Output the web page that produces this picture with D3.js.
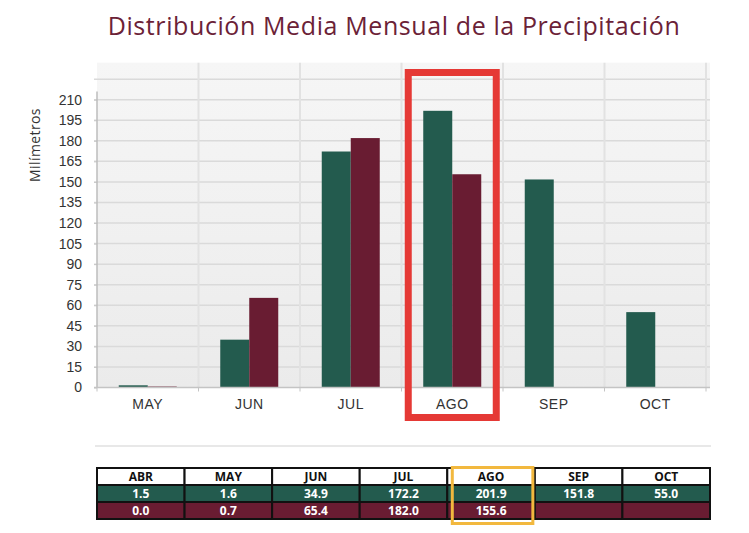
<!DOCTYPE html>
<html lang="es">
<head>
  <meta charset="UTF-8">
  <title>Distribución Media Mensual de la Precipitación</title>
  <style>
    body { margin: 0; background: #fff; }
    svg { display: block; font-family: 'Open Sans', sans-serif; }
    .tick text { fill: #333; font-size: 14px; }
    .xaxis .tick text { letter-spacing: 0.5px; }
    .cell { font-size: 12px; font-weight: bold; }
  </style>
</head>
<body>
  <svg id="chart" width="749" height="533"></svg>
  <script src="https://d3js.org/d3.v7.min.js"></script>
  <script>
    // months shown in the table (ABR included), the chart starts at MAY
    const tableMonths = ['ABR', 'MAY', 'JUN', 'JUL', 'AGO', 'SEP', 'OCT']
    const chartMonths = ['MAY', 'JUN', 'JUL', 'AGO', 'SEP', 'OCT']
    const seriesNames = ['normal', 'actual']
    const normalValues = [1.5, 1.6, 34.9, 172.2, 201.9, 151.8, 55.0]
    const actualValues = [0.0, 0.7, 65.4, 182.0, 155.6, null, null]
    const yTicks = [0, 15, 30, 45, 60, 75, 90, 105, 120, 135, 150, 165, 180, 195, 210]
    const gridTicks = [15, 30, 45, 60, 75, 90, 105, 120, 135, 150, 165, 180, 195, 210, 225]
    const highlight = 'AGO'

    const green = '#235b4e'
    const maroon = '#691c32'
    const colors = [green, maroon]

    const svg = d3.select('#chart')

    const x0 = d3.scaleBand()
      .domain(chartMonths)
      .range([97, 706])

    const x1 = d3.scaleBand()
      .domain(seriesNames)
      .range([0, x0.bandwidth()])
      .paddingOuter(0.75)

    const y = d3.scaleLinear()
      .domain([0, 237])
      .range([387.5, 62.7])

    // title
    svg.append('text')
      .attr('x', 394)
      .attr('y', 35)
      .attr('text-anchor', 'middle')
      .attr('fill', '#6b2237')
      .style('font-size', '25px')
      .style('letter-spacing', '0.6px')
      .text('Distribución Media Mensual de la Precipitación')

    // plot background
    const grad = svg.append('defs').append('linearGradient')
      .attr('id', 'bg').attr('x1', 0).attr('y1', 0).attr('x2', 0).attr('y2', 1)
    grad.append('stop').attr('offset', '0%').attr('stop-color', '#f6f6f6')
    grad.append('stop').attr('offset', '100%').attr('stop-color', '#ebebeb')

    svg.append('rect')
      .attr('x', x0.range()[0])
      .attr('y', y(237))
      .attr('width', 710 - x0.range()[0])
      .attr('height', y(0) - y(237))
      .attr('fill', 'url(#bg)')

    // horizontal grid
    svg.append('g')
      .selectAll('line')
      .data(gridTicks)
      .join('line')
      .attr('x1', 94)
      .attr('x2', 710)
      .attr('y1', d => y(d))
      .attr('y2', d => y(d))
      .attr('stroke', '#dadada')
      .attr('stroke-width', 1.5)

    // vertical grid at category boundaries
    const bounds = chartMonths.map(m => x0(m)).concat([x0.range()[1]])
    svg.append('g')
      .selectAll('line')
      .data(bounds.slice(1))
      .join('line')
      .attr('x1', d => d)
      .attr('x2', d => d)
      .attr('y1', y(237))
      .attr('y2', y(0))
      .attr('stroke', '#e2e2e2')
      .attr('stroke-width', 2)

    // bars
    const groups = svg.append('g')
      .selectAll('g')
      .data(chartMonths)
      .join('g')
      .attr('transform', d => `translate(${x0(d)},0)`)

    groups.selectAll('rect')
      .data(m => {
        const i = tableMonths.indexOf(m)
        return [
          { key: 'normal', value: normalValues[i] },
          { key: 'actual', value: actualValues[i] }
        ].filter(d => d.value != null)
      })
      .join('rect')
      .attr('x', d => x1(d.key))
      .attr('width', x1.bandwidth())
      .attr('y', d => y(d.value))
      .attr('height', d => y(0) - y(d.value))
      .attr('fill', d => colors[seriesNames.indexOf(d.key)])

    // y axis
    const yAxis = svg.append('g')
      .attr('transform', `translate(${x0.range()[0]},0)`)
      .call(d3.axisLeft(y).tickValues(yTicks).tickSize(3).tickPadding(12))
    yAxis.select('.domain').remove()
    yAxis.selectAll('.tick line').attr('stroke', '#c8c8c8')
    yAxis.append('line')
      .attr('x1', 0).attr('x2', 0)
      .attr('y1', y(216)).attr('y2', y(0))
      .attr('stroke', '#bdbdbd')
      .attr('stroke-width', 1.5)

    // x axis
    const xAxis = svg.append('g')
      .attr('class', 'xaxis')
      .attr('transform', `translate(0,${y(0)})`)
      .call(d3.axisBottom(x0).tickSize(0).tickPadding(12))
    xAxis.select('.domain').remove()
    xAxis.append('line')
      .attr('x1', 94).attr('x2', 710)
      .attr('stroke', '#c4c4c4').attr('stroke-width', 1.5)
    xAxis.selectAll('.boundtick')
      .data(bounds)
      .join('line')
      .attr('x1', d => d).attr('x2', d => d)
      .attr('y1', 0).attr('y2', 4)
      .attr('stroke', '#c4c4c4')

    // y label
    svg.append('text')
      .attr('transform', 'translate(40,145) rotate(-90)')
      .attr('text-anchor', 'middle')
      .attr('fill', '#333')
      .style('font-size', '14px')
      .style('letter-spacing', '0.4px')
      .text('Milímetros')

    // highlight box around the selected month
    svg.append('rect')
      .attr('x', x0(highlight) + x0.bandwidth() / 2 - 44)
      .attr('y', 72.5)
      .attr('width', 88)
      .attr('height', 345)
      .attr('fill', 'none')
      .attr('stroke', '#e53935')
      .attr('stroke-width', 7)

    // separator
    svg.append('line')
      .attr('x1', 95).attr('x2', 711)
      .attr('y1', 446).attr('y2', 446)
      .attr('stroke', '#e8e8e8')
      .attr('stroke-width', 2)

    // data table
    const tx = d3.scaleBand()
      .domain(tableMonths)
      .range([97, 710])

    const rows = [
      { y: 468, h: 17, fill: '#fff', color: '#111', vals: tableMonths },
      { y: 485, h: 17, fill: green, color: '#fff', vals: normalValues.map(v => v == null ? '' : v.toFixed(1)) },
      { y: 502, h: 17, fill: maroon, color: '#fff', vals: actualValues.map(v => v == null ? '' : v.toFixed(1)) }
    ]

    const table = svg.append('g')
    rows.forEach(r => {
      table.append('g')
        .selectAll('rect')
        .data(tableMonths)
        .join('rect')
        .attr('x', d => tx(d))
        .attr('y', r.y)
        .attr('width', tx.bandwidth())
        .attr('height', r.h)
        .attr('fill', r.fill)
        .attr('stroke', '#111')
        .attr('stroke-width', 2)
      table.append('g')
        .selectAll('text')
        .data(tableMonths)
        .join('text')
        .attr('class', 'cell')
        .attr('x', d => tx(d) + tx.bandwidth() / 2)
        .attr('y', r.y + r.h / 2 + 4.5)
        .attr('text-anchor', 'middle')
        .attr('fill', r.color)
        .text((d, i) => r.vals[i])
    })

    // highlight in the table
    svg.append('rect')
      .attr('x', tx(highlight) + 5)
      .attr('y', 467.5)
      .attr('width', tx.bandwidth() - 7)
      .attr('height', 56)
      .attr('fill', 'none')
      .attr('stroke', '#f2b83e')
      .attr('stroke-width', 3)
  </script>
</body>
</html>
